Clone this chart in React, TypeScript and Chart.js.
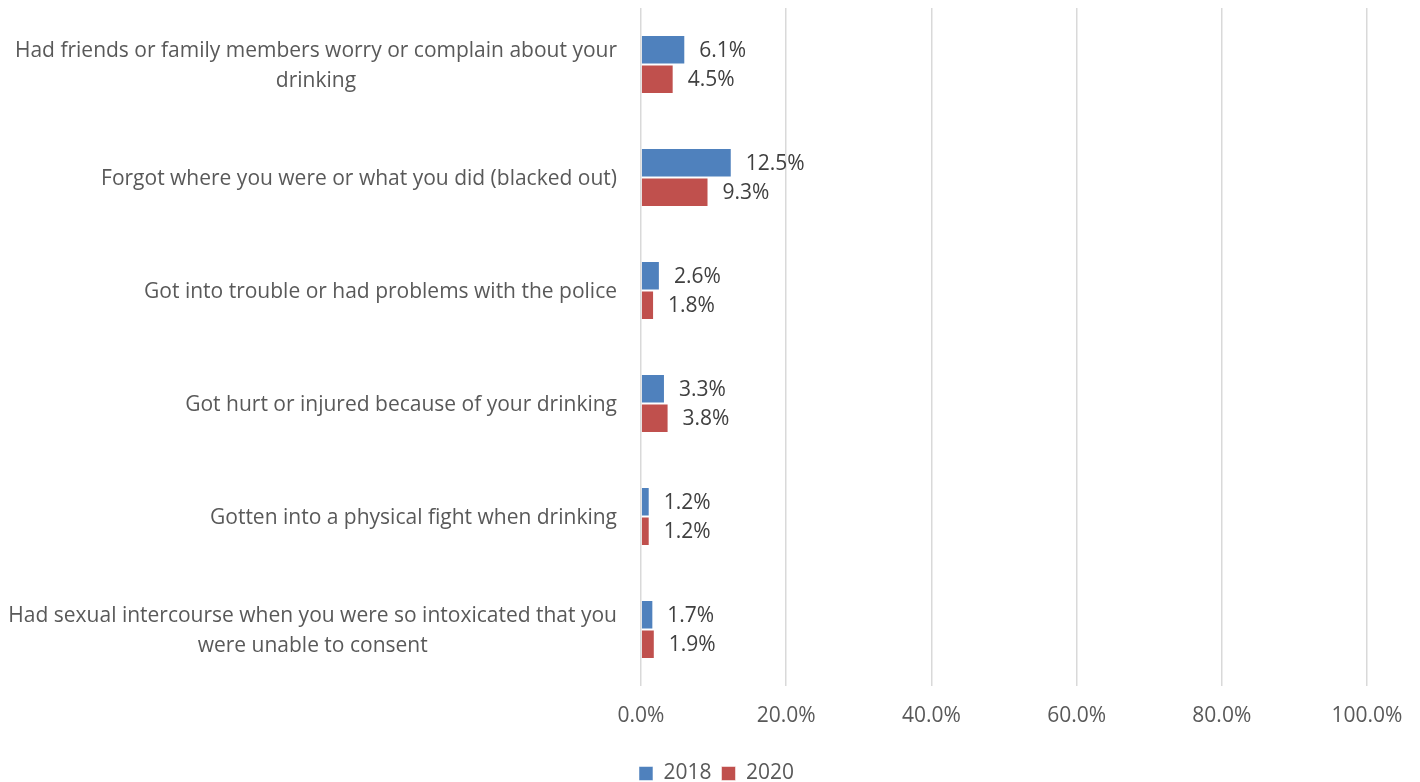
import React, { useEffect, useRef } from "react";
import { Chart, registerables } from "chart.js";

Chart.register(...registerables);

const categories: string[][] = [
  ["Had friends or family members worry or complain about your", "drinking"],
  ["Forgot where you were or what you did (blacked out)"],
  ["Got into trouble or had problems with the police"],
  ["Got hurt or injured because of your drinking"],
  ["Gotten into a physical fight when drinking"],
  ["Had sexual intercourse when you were so intoxicated that you", "were unable to consent"],
];
const seriesNames = ["2018", "2020"];
const values2018 = [6.1, 12.5, 2.6, 3.3, 1.2, 1.7];
const values2020 = [4.5, 9.3, 1.8, 3.8, 1.2, 1.9];
const xTickValues = [0, 20, 40, 60, 80, 100];

const FONT = "'Open Sans', sans-serif";
const TEXT = "#595959";

const categoryLabelPlugin = {
  id: "categoryLabels",
  afterDraw(chart: any) {
    const ctx = chart.ctx;
    const y = chart.scales.y;
    ctx.save();
    ctx.font = `21px ${FONT}`;
    ctx.fillStyle = TEXT;
    ctx.textAlign = "center";
    ctx.textBaseline = "middle";
    const right = chart.chartArea.left - 24;
    const lh = 30;
    categories.forEach((lines, i) => {
      const cy = y.getPixelForValue(i) + 2;
      const w = Math.max(...lines.map((l) => ctx.measureText(l).width));
      const cx = right - w / 2;
      const top = cy - ((lines.length - 1) * lh) / 2;
      lines.forEach((l, j) => ctx.fillText(l, cx, top + j * lh));
    });
    ctx.restore();
  },
};

const valueLabelPlugin = {
  id: "valueLabels",
  afterDatasetsDraw(chart: any) {
    const ctx = chart.ctx;
    ctx.save();
    ctx.font = `21px ${FONT}`;
    ctx.fillStyle = "#404040";
    ctx.textAlign = "left";
    ctx.textBaseline = "middle";
    chart.data.datasets.forEach((ds: any, di: number) => {
      const meta = chart.getDatasetMeta(di);
      meta.data.forEach((el: any, i: number) => {
        ctx.fillText(ds.data[i].toFixed(1) + "%", el.x + 14, el.y + 1);
      });
    });
    ctx.restore();
  },
};

const legendShiftPlugin = {
  id: "legendShift",
  afterLayout(chart: any) {
    const lg = chart.legend;
    if (lg) {
      lg.left += 33;
      lg.right += 33;
    }
  },
};

export default function App() {
  const ref = useRef<HTMLCanvasElement>(null);
  useEffect(() => {
    if (!ref.current) return;
    const chart = new Chart(ref.current, {
      type: "bar",
      data: {
        labels: categories.map((c) => c.join(" ")),
        datasets: [
          {
            label: seriesNames[0],
            data: values2018,
            backgroundColor: "#4F81BD",
            borderColor: "rgba(255,255,255,0.5)",
            borderWidth: 1,
            categoryPercentage: 0.52,
            barPercentage: 1,
          },
          {
            label: seriesNames[1],
            data: values2020,
            backgroundColor: "#C0504D",
            borderColor: "rgba(255,255,255,0.5)",
            borderWidth: 1,
            categoryPercentage: 0.52,
            barPercentage: 1,
          },
        ],
      },
      options: {
        indexAxis: "y",
        responsive: true,
        maintainAspectRatio: false,
        animation: false,
        layout: { padding: { top: 8, right: 53, bottom: -12, left: 0 } },
        scales: {
          x: {
            min: 0,
            max: 100,
            afterBuildTicks: (s: any) => {
              s.ticks = xTickValues.map((v) => ({ value: v }));
            },
            afterFit: (s: any) => {
              s.height = 67;
            },
            ticks: {
              callback: (v: any) => Number(v).toFixed(1) + "%",
              font: { family: FONT, size: 21 },
              color: TEXT,
              padding: 17,
              maxRotation: 0,
            },
            grid: { color: "#D9D9D9", lineWidth: 1.5, drawTicks: false },
            border: { display: false },
          },
          y: {
            ticks: { display: false },
            grid: { display: false },
            border: { display: false },
            afterFit: (s: any) => {
              s.width = 641;
            },
          },
        },
        plugins: {
          legend: {
            position: "bottom",
            labels: {
              boxWidth: 14,
              boxHeight: 14,
              padding: 10,
              font: { family: FONT, size: 21 },
              color: TEXT,
            },
          },
          tooltip: { enabled: false },
        },
      },
      plugins: [categoryLabelPlugin, valueLabelPlugin, legendShiftPlugin],
    });
    return () => chart.destroy();
  }, []);
  return (
    <div style={{ position: "fixed", left: 0, top: 0, width: 1420, height: 782, background: "#fff" }}>
      <canvas ref={ref} />
    </div>
  );
}
